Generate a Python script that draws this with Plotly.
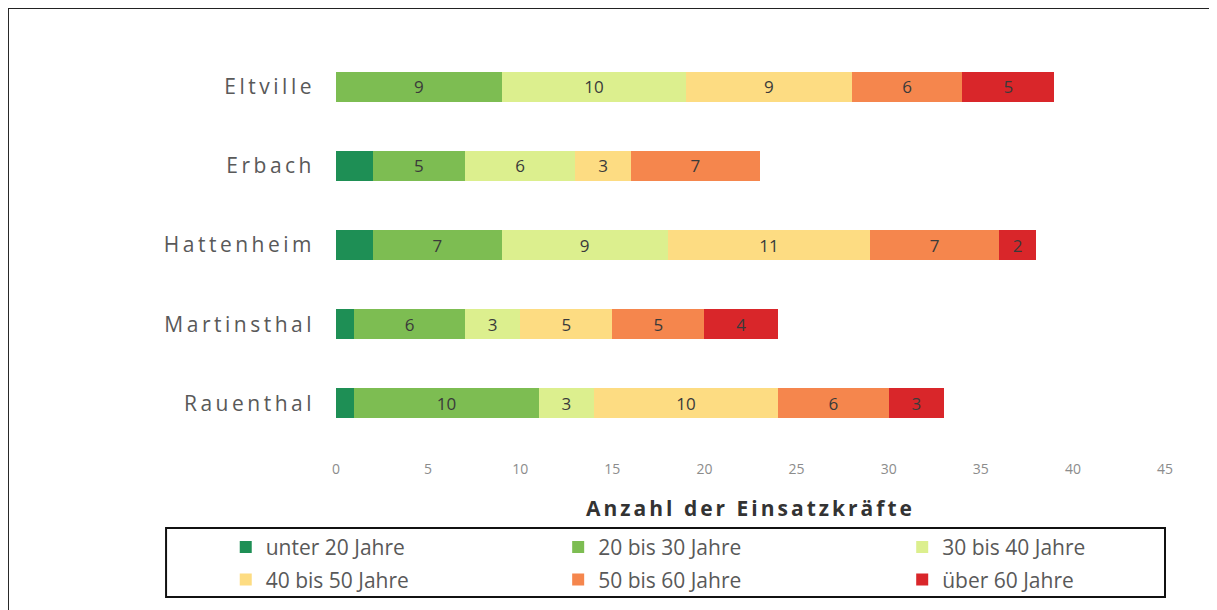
import plotly.graph_objects as go

orte = ["Eltville", "Erbach", "Hattenheim", "Martinsthal", "Rauenthal"]
gruppen = ["unter 20 Jahre", "20 bis 30 Jahre", "30 bis 40 Jahre",
           "40 bis 50 Jahre", "50 bis 60 Jahre", "über 60 Jahre"]

unter_20 = [0, 2, 2, 1, 1]
j20_30 = [9, 5, 7, 6, 10]
j30_40 = [10, 6, 9, 3, 3]
j40_50 = [9, 3, 11, 5, 10]
j50_60 = [6, 7, 7, 5, 6]
ueber_60 = [5, 0, 2, 4, 3]

farben = ["#1e8f55", "#7dbd52", "#dcef8e", "#fddc82", "#f5864d", "#d9262a"]
serien = [unter_20, j20_30, j30_40, j40_50, j50_60, ueber_60]
# legend is laid out in three columns: one plotly legend per column
spalte = ["legend", "legend2", "legend3", "legend", "legend2", "legend3"]

fig = go.Figure()
for i, (name, werte, farbe) in enumerate(zip(gruppen, serien, farben)):
    # no labels on the tiny "unter 20" segments or on empty ones
    texte = ["" if (i == 0 or v == 0) else str(v) for v in werte]
    fig.add_trace(go.Bar(
        y=orte, x=werte, name=name, orientation="h",
        legend=spalte[i], legendgroup=name,
        marker=dict(color=farbe, line=dict(width=0)),
        text=texte, textposition="inside", insidetextanchor="middle",
        textfont=dict(size=17, color="#3a3a3a"),
    ))


def legende(x):
    return dict(
        x=x, xanchor="left", y=-0.212, yanchor="top",
        orientation="v", tracegroupgap=2,
        font=dict(size=21, color="#595959"),
        bgcolor="rgba(0,0,0,0)", borderwidth=0,
    )


fig.update_layout(
    barmode="stack",
    bargap=0.62,
    width=1217, height=610,
    margin=dict(l=328, r=60, t=39, b=175),
    paper_bgcolor="white", plot_bgcolor="white",
    font=dict(family="Open Sans, sans-serif", color="#595959"),
    showlegend=True,
    legend=legende(-0.133),
    legend2=legende(0.268),
    legend3=legende(0.683),
    xaxis=dict(
        range=[0, 45], dtick=5, showgrid=False, zeroline=False,
        tickfont=dict(size=14, color="#8c8c8c"), ticklabelstandoff=16,
        title=dict(text="<b>Anzahl der Einsatzkräfte</b>", standoff=24,
                   font=dict(size=21, color="#333333")),
    ),
    yaxis=dict(
        autorange="reversed", showgrid=False, zeroline=False,
        tickfont=dict(size=21, color="#595959"), ticklabelstandoff=20,
    ),
    shapes=[
        # legend frame
        dict(type="rect", xref="paper", yref="paper",
             x0=-0.205, x1=1.0, y0=-0.2146, y1=-0.389,
             line=dict(color="#111111", width=2)),
        # outer frame
        dict(type="rect", xref="paper", yref="paper",
             x0=-0.3957, x1=1.2, y0=1.0985, y1=-0.45,
             line=dict(color="#222222", width=2)),
    ],
)

# the original axis labels are tracked out quite a bit
sperrung = (
    "var s=document.createElement('style');"
    "s.textContent='.ytick text{letter-spacing:3.5px}"
    ".xtitle{letter-spacing:3px}';"
    "document.head.appendChild(s);"
)

fig.write_html("out.html", post_script=sperrung)
